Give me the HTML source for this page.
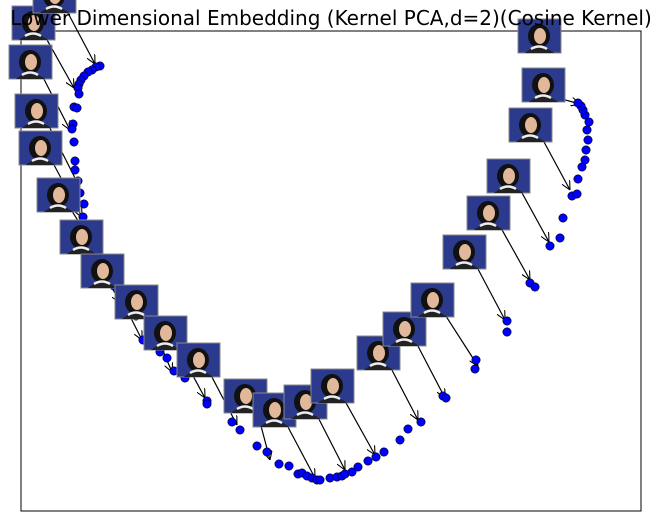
<!DOCTYPE html>
<html><head><meta charset="utf-8"><style>
html,body{margin:0;padding:0;background:#fff;}
svg{display:block;font-family:"DejaVu Sans","Liberation Sans",sans-serif;}
</style></head><body>
<svg id="chart" width="661" height="521" viewBox="0 0 661 521">
<defs>
<marker id="ah" viewBox="0 0 10 10" refX="10" refY="5" markerWidth="9" markerHeight="9" orient="auto" markerUnits="userSpaceOnUse">
<path d="M0,0 L10,5 L0,10" fill="none" stroke="#000" stroke-width="1.2"/>
</marker>
</defs>
<rect x="21" y="31" width="620" height="480" fill="#fff" stroke="#000" stroke-width="1"/>
<g id="arrows"></g>
<g id="points"></g>
<g id="thumbs"></g>
<text x="331" y="25" text-anchor="middle" font-size="20" fill="#000" font-family="DejaVu Sans, sans-serif">Lower Dimensional Embedding (Kernel PCA,d=2)(Cosine Kernel)</text>
<g id="thumbsTop"></g>
</svg>
<script>
// embedding coordinates (data units: x 0..620, y 0..480)
const embX = [79,75,71,67,63,60,58,57,58,53,56,52,51,53,54,54,57,59,63,62,67,71,75,81,86,93,98,107,115,122,129,139,146,153,164,186,186,211,219,236,246,258,268,277,281,286,291,296,299,309,316,321,324,331,337,347,355,363,379,387,400,422,425,454,455,486,486,509,514,529,539,542,551,556,557,561,564,565,567,566,568,564,562,560,557];
const embY = [445,444,441,439,435,431,427,423,417,404,403,387,382,369,350,341,330,318,307,294,285,279,263,253,243,225,215,206,195,171,169,159,153,140,133,110,107,89,81,65,59,47,45,37,38,35,33,31,31,33,34,35,37,39,44,50,54,59,71,82,89,115,113,142,151,190,179,228,224,265,273,293,315,317,332,344,351,361,371,381,389,396,401,405,408];
// thumbnail positions (data units, top-left) and arrow targets
const thumbX = [12,-9,-12,-6,-2,16,39,60,94,123,156,203,232,263,290,336,362,390,422,446,466,488,501,497];
const thumbY = [532,505,466,417,380,333,291,257,226,195,168,132,118,126,142,175,199,228,276,315,352,403,443,492];
const targX = [74,53,49,59,61,79,99,121,151,184,216,249,294,324,354,397,424,457,484,509,528,549,559,null];
const targY = [447,423,381,323,294,256,208,171,139,113,86,51,33,41,56,91,113,145,191,231,269,321,407,null];

const L=21,T=31,W=620,H=480;
const sx=v=>L+v/620*W;
const sy=v=>T+H-v/480*H;
const NS="http://www.w3.org/2000/svg";
const ga=document.getElementById('arrows'),gp=document.getElementById('points'),gt=document.getElementById('thumbs'),gtop=document.getElementById('thumbsTop');
const TW=43,TH=34;
for(let i=0;i<thumbX.length;i++){
  if(targX[i]===null) continue;
  const ln=document.createElementNS(NS,'line');
  
  
  const x0=sx(thumbX[i])+TW*0.75, y0=sy(thumbY[i])+TH*0.85;
  ln.setAttribute('x1',x0);ln.setAttribute('y1',y0);
  ln.setAttribute('x2',sx(targX[i]));ln.setAttribute('y2',sy(targY[i]));
  ln.setAttribute('stroke','#000');ln.setAttribute('stroke-width','1.2');
  ln.setAttribute('marker-end','url(#ah)');
  ga.appendChild(ln);
}
for(let i=0;i<embX.length;i++){
  const c=document.createElementNS(NS,'circle');
  
  
  c.setAttribute('cx',sx(embX[i]));c.setAttribute('cy',sy(embY[i]));c.setAttribute('r',4.2);
  c.setAttribute('fill','#0000ff');c.setAttribute('stroke','#000');c.setAttribute('stroke-width','0.6');
  gp.appendChild(c);
}
for(let i=0;i<thumbX.length;i++){
  const g=document.createElementNS(NS,'g');
  
  
  const x=sx(thumbX[i]),y=sy(thumbY[i]);
  g.setAttribute('transform','translate('+x+','+y+')');
  g.innerHTML='<rect x="0" y="0" width="'+TW+'" height="'+TH+'" fill="#2b3a8c" stroke="#888" stroke-width="1"/>'+
   '<ellipse cx="21" cy="17" rx="11" ry="12" fill="#111"/>'+
   '<ellipse cx="22" cy="17" rx="6" ry="8" fill="#e2b89a"/>'+
   '<path d="M7,34 Q21,22 36,34 Z" fill="#222"/>'+
   '<path d="M13,30 Q21,25 29,30" fill="none" stroke="#eee" stroke-width="2.5"/>';
  (i===0?gtop:gt).appendChild(g);
}
</script>
</body></html>
